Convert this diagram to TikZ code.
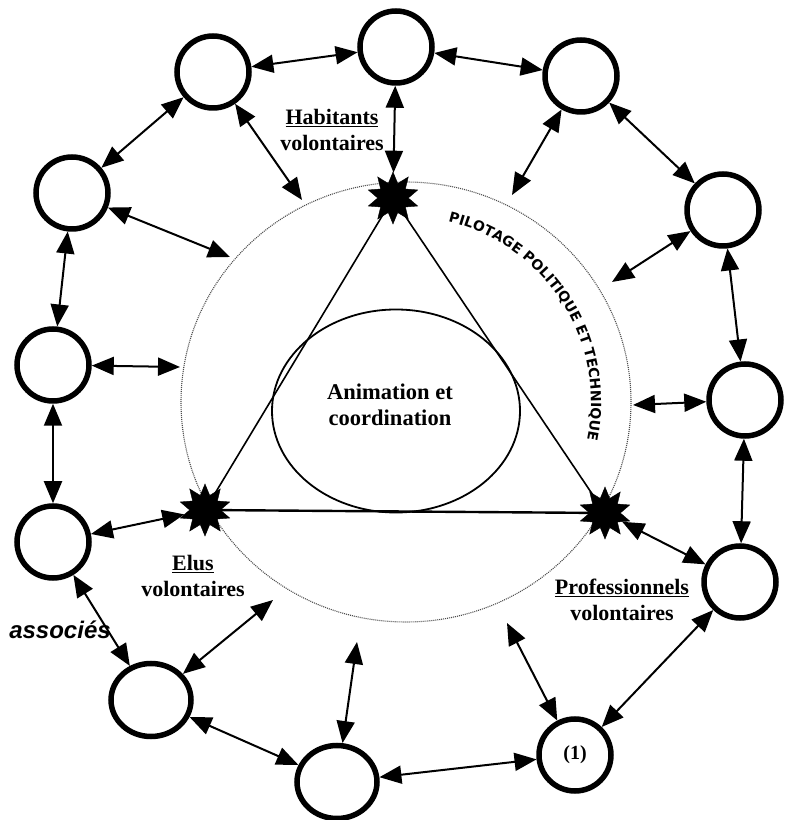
\documentclass[tikz,border=0pt]{standalone}
\usepackage{fontspec}
\setmainfont{Liberation Serif}
\newfontfamily\assocfont{Liberation Sans}
\newfontfamily\pilotfont{DejaVu Sans}
\usetikzlibrary{arrows.meta,shapes.geometric,decorations.text}
\tikzset{
  headtip/.tip={Triangle[length=22pt,width=18pt]},
}
\begin{document}
\begin{tikzpicture}[x=1pt,y=1pt,
  ring/.style={circle,draw,line width=5.5pt,minimum size=72pt,inner sep=0pt},
  oval/.style={ellipse,draw,line width=5.5pt,minimum width=80pt,minimum height=73pt,inner sep=0pt},
  burst/.style={star,star points=10,star point ratio=1.7,fill=black,draw=black,minimum size=52pt,inner sep=0pt},
  link/.style={headtip-headtip,line width=2pt},
  lbl/.style={font=\fontsize{22}{26}\selectfont\bfseries,align=center}]
\fill[white] (0,0) rectangle (795,820);
\useasboundingbox (0,0) rectangle (795,820);

% outer dotted circle and inner shapes
\draw[gray!60!black,line width=1.1pt,dash pattern=on 1pt off 1pt] (406,418) ellipse [x radius=225pt, y radius=220pt];
\node[ellipse,draw,line width=1.8pt,minimum width=248pt,minimum height=203pt,inner sep=0pt] (anim) at (396,409) {};
\node[font=\fontsize{22.5}{26}\selectfont\bfseries,align=center] (animtxt) at (390,415) {Animation et\\coordination};

% stars
\node[burst] (ts) at (393,622) {};
\node[burst] (ls) at (205,310) {};
\node[burst] (rs) at (605,307) {};
\draw[line width=1.6pt] (ts.center) -- (ls.center);
\draw[line width=1.6pt] (ts.center) -- (rs.center);
\draw[line width=2.4pt] (ls.center) -- (rs.center);

% curved text
\path[decorate,decoration={text along path,
  text={|\pilotfont\bfseries\fontsize{14}{14}\selectfont|PILOTAGE POLITIQUE ET TECHNIQUE},
  text align=center}]
  (406,418) ++(80:185pt) arc[start angle=80,end angle=-15,radius=185pt];

% outer circles
\node[ring] (c1) at (213,748) {};
\node[ring] (c2) at (396,773) {};
\node[ring] (c3) at (581,744) {};
\node[ring] (c4) at (72,627) {};
\node[ring] (c5) at (723,610) {};
\node[ring] (c6) at (53,455) {};
\node[ring] (c7) at (745,420) {};
\node[ring] (c8) at (53,278) {};
\node[ring] (c9) at (740,238) {};
\node[oval] (c10) at (151,120) {};
\node[ring,font=\fontsize{20}{20}\selectfont\bfseries] (c11) at (575,65) {(1)};
\node[oval] (c12) at (337,38) {};

% free ends on the dotted circle
\coordinate (p1) at (302,620);
\coordinate (p3) at (512,625);
\coordinate (p4) at (230,563);
\coordinate (p5) at (612,538);
\coordinate (p6) at (180,453);
\coordinate (p7) at (633,415);
\coordinate (p10) at (273,220);
\coordinate (p12) at (357,178);
\coordinate (p11) at (507,197);

% ring connectors
\draw[link] (c1) -- (c2);
\draw[link] (c2) -- (c3);
\draw[link] (c3) -- (c5);
\draw[link] (c1) -- (c4);
\draw[link] (c4) -- (c6);
\draw[link] (c5) -- (c7);
\draw[link] (c6) -- (c8);
\draw[link] (c7) -- (c9);
\draw[link] (c8) -- (c10);
\draw[link] (c9) -- (c11);
\draw[link] (c10) -- (c12);
\draw[link] (c12) -- (c11);

% connectors to the centre
\draw[link] (c2) -- (ts);
\draw[link] (c8) -- (ls);
\draw[link] (c9) -- (rs);
\draw[link] (c1) -- (p1);
\draw[link] (c3) -- (p3);
\draw[link] (c4) -- (p4);
\draw[link] (c5) -- (p5);
\draw[link] (c6) -- (p6);
\draw[link] (c7) -- (p7);
\draw[link] (c10) -- (p10);
\draw[link] (c12) -- (p12);
\draw[link] (c11) -- (p11);

% labels
\node[lbl] (hab) at (332,690) {\underline{Habitants}\\volontaires};
\node[lbl] (elus) at (193,244) {\underline{Elus}\\volontaires};
\node[lbl] (pro) at (622,220) {\underline{Professionnels}\\volontaires};
\node[font=\assocfont\bfseries\itshape\fontsize{24}{24}\selectfont] (assoc) at (60,190) {associés};
\end{tikzpicture}
\end{document}
